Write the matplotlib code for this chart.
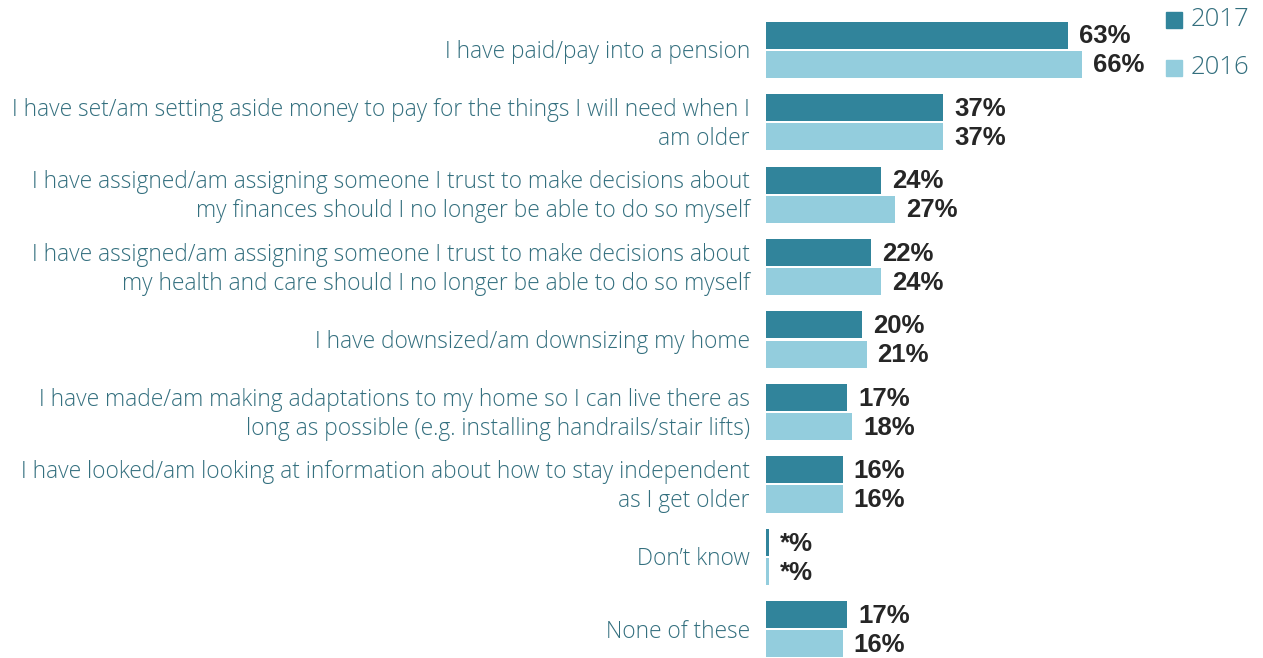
import matplotlib
matplotlib.use("Agg")
import matplotlib.pyplot as plt
import numpy as np

categories = [
    "I have paid/pay into a pension",
    "I have set/am setting aside money to pay for the things I will need when I\nam older",
    "I have assigned/am assigning someone I trust to make decisions about\nmy finances should I no longer be able to do so myself",
    "I have assigned/am assigning someone I trust to make decisions about\nmy health and care should I no longer be able to do so myself",
    "I have downsized/am downsizing my home",
    "I have made/am making adaptations to my home so I can live there as\nlong as possible (e.g. installing handrails/stair lifts)",
    "I have looked/am looking at information about how to stay independent\nas I get older",
    "Don\u2019t know",
    "None of these",
]
values_2017 = [63, 37, 24, 22, 20, 17, 16, 0.6, 17]
values_2016 = [66, 37, 27, 24, 21, 18, 16, 0.6, 16]
labels_2017 = ["63%", "37%", "24%", "22%", "20%", "17%", "16%", "*%", "17%"]
labels_2016 = ["66%", "37%", "27%", "24%", "21%", "18%", "16%", "*%", "16%"]
series_names = ["2017", "2016"]

c2017 = "#31849B"
c2016 = "#93CDDD"
text_col = "#336F7E"
val_col = "#262626"

W, H = 1263, 658
fig = plt.figure(figsize=(W / 100, H / 100), dpi=100)
x0 = 766
ax = fig.add_axes([x0 / W, 0, 1 - x0 / W, 1])
ppp = 4.79  # pixels per percent
ax.set_xlim(0, (W - x0) / ppp)
spacing = 72.5
top = -49.5 / spacing
bottom = (H - 49.5) / spacing
ax.set_ylim(bottom, top)
ax.axis("off")

y = np.arange(len(categories))
bh = 27 / spacing
off = 14.5 / spacing
ax.barh(y - off, values_2017, height=bh, color=c2017, label=series_names[0])
ax.barh(y + off, values_2016, height=bh, color=c2016, label=series_names[1])

for i in range(len(categories)):
    for v, lab, dy in ((values_2017[i], labels_2017[i], -off), (values_2016[i], labels_2016[i], off)):
        ax.text(v + 11 / ppp, y[i] + dy + 0.02, lab, ha="left", va="center",
                fontsize=18.5, fontweight="bold", family="Liberation Sans", color=val_col)
    ax.text(-16 / ppp, y[i] + 0.03, categories[i], ha="right", va="center",
            fontsize=16.4, family="Open Sans", fontweight="light", color=text_col,
            linespacing=1.27, clip_on=False)

# legend
for k, (name, col) in enumerate(zip(series_names, [c2017, c2016])):
    ly = (20 + 48 * k) / H
    fig.patches.append(plt.Rectangle((1166 / W, 1 - ly - 8 / H), 16 / W, 16 / H,
                                     transform=fig.transFigure, color=col))
    fig.text(1191 / W, 1 - ly, name, ha="left", va="center", fontsize=18.5,
             family="Open Sans", fontweight="light", color=text_col)

fig.savefig("out.png", dpi=100)
